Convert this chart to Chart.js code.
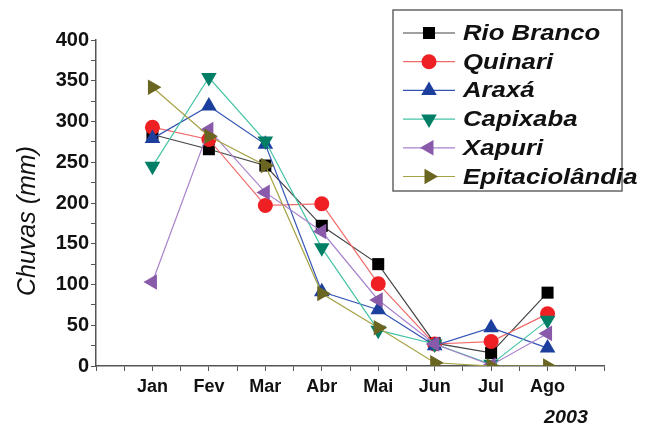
<!DOCTYPE html>
<html>
<head>
<meta charset="utf-8">
<script src="https://cdn.jsdelivr.net/npm/chart.js"></script>
<style>
  html, body { margin: 0; padding: 0; background: #fff; }
  #wrap { width: 651px; height: 426px; }
</style>
</head>
<body>
<div id="wrap"><canvas id="rainChart" width="651" height="426"></canvas></div>
<script>
// month labels, positioned at 1..8 on a linear axis from 0 to 9
const months = ['Jan', 'Fev', 'Mar', 'Abr', 'Mai', 'Jun', 'Jul', 'Ago'];
const yTicks = [0, 50, 100, 150, 200, 250, 300, 350, 400];

// rainfall values (mm)
const rioBranco = [284, 266, 246, 172, 125, 28, 16, 90];
const quinari = [293, 278, 197, 199, 101, 27, 30, 64];
const araxa = [279, 319, 272, 91, 69, 25, 47, 22];
const capixaba = [245, 354, 276, 145, 44, 27, 2, 56];
const xapuri = [103, 290, 213, 165, 81, 27, 1, 40];
const epitaciolandia = [342, 282, 246, 89, 47, 4, 0, 0];

const FONT = "'Liberation Sans', Arial, sans-serif";

function toPoints(values) {
  return values.map((v, i) => ({ x: i + 1, y: v }));
}

const series = [
  { label: 'Rio Branco', data: rioBranco, line: '#444444', fill: '#000000', style: 'rect', radius: 8.5, rot: 0 },
  { label: 'Quinari', data: quinari, line: '#f26a6a', fill: '#ee2024', style: 'circle', radius: 7.5, rot: 0 },
  { label: 'Araxá', data: araxa, line: '#3555b5', fill: '#1c3f9e', style: 'triangle', radius: 9, rot: 0 },
  { label: 'Capixaba', data: capixaba, line: '#45c4a4', fill: '#007f66', style: 'triangle', radius: 9, rot: 180 },
  { label: 'Xapuri', data: xapuri, line: '#a882cc', fill: '#8a5aaa', style: 'triangle', radius: 9, rot: -90 },
  { label: 'Epitaciolândia', data: epitaciolandia, line: '#a5a244', fill: '#6b6522', style: 'triangle', radius: 9, rot: 90 }
];

const datasets = series.map((s, i) => ({
  label: s.label,
  data: toPoints(s.data),
  borderColor: s.line,
  borderWidth: 1.2,
  backgroundColor: s.fill,
  pointStyle: s.style,
  pointRadius: s.radius,
  pointRotation: s.rot,
  pointBackgroundColor: s.fill,
  pointBorderColor: s.fill,
  pointBorderWidth: 0,
  tension: 0,
  order: series.length - i
}));

// text in the source is a bit wider than Arial, stretch it sideways
function wideText(ctx, text, x, y, stretch) {
  ctx.save();
  ctx.translate(x, y);
  ctx.scale(stretch, 1);
  ctx.fillText(text, 0, 0);
  ctx.restore();
}

// floating legend box, y title (sits a bit low in the source) and the "2003" note
const legendBox = {
  id: 'legendBox',
  afterDraw(chart) {
    const ctx = chart.ctx;
    ctx.save();
    ctx.strokeStyle = '#666';
    ctx.lineWidth = 1.5;
    ctx.strokeRect(393, 10, 229, 181);
    chart.data.datasets.forEach((ds, i) => {
      const y = 33 + i * 28.7;
      ctx.strokeStyle = ds.borderColor;
      ctx.lineWidth = 1.2;
      ctx.beginPath();
      ctx.moveTo(403, y);
      ctx.lineTo(455, y);
      ctx.stroke();
      ctx.fillStyle = ds.pointBackgroundColor;
      ctx.strokeStyle = ds.pointBackgroundColor;
      Chart.helpers.drawPoint(ctx, {
        pointStyle: ds.pointStyle,
        radius: ds.pointRadius,
        rotation: ds.pointRotation,
        borderWidth: 0
      }, 429, y);
      ctx.fillStyle = '#111';
      ctx.font = 'italic bold 22px ' + FONT;
      ctx.textAlign = 'left';
      ctx.textBaseline = 'middle';
      wideText(ctx, ds.label, 463, y + 1, 1.17);
    });

    ctx.fillStyle = '#111';
    ctx.font = 'italic 25px ' + FONT;
    ctx.textAlign = 'center';
    ctx.textBaseline = 'middle';
    ctx.save();
    ctx.translate(28, 221);
    ctx.rotate(-Math.PI / 2);
    ctx.fillText('Chuvas (mm)', 0, 0);
    ctx.restore();

    ctx.font = 'italic bold 18px ' + FONT;
    ctx.textAlign = 'right';
    wideText(ctx, '2003', 588, 418, 1.1);
    ctx.restore();
  }
};

new Chart(document.getElementById('rainChart'), {
  type: 'line',
  data: { datasets },
  plugins: [legendBox],
  options: {
    responsive: false,
    animation: false,
    layout: { padding: { left: 0, right: 47, top: 40, bottom: 0 } },
    plugins: {
      legend: { display: false },
      tooltip: { enabled: false }
    },
    scales: {
      x: {
        type: 'linear',
        min: 0,
        max: 9,
        afterFit: (scale) => { scale.height = 60; },
        afterBuildTicks: (scale) => {
          const t = [];
          for (let v = 0; v <= 9; v += 0.5) t.push({ value: v });
          scale.ticks = t;
        },
        ticks: {
          autoSkip: false,
          maxRotation: 0,
          padding: 5,
          color: '#111',
          font: { family: FONT, size: 18, weight: 'bold' },
          callback: (v) => (Number.isInteger(v) && v >= 1 && v <= months.length) ? months[v - 1] : ''
        },
        grid: { drawOnChartArea: false, drawTicks: true, tickLength: 5, color: '#555' },
        border: { display: true, color: '#555', width: 1.5 }
      },
      y: {
        min: 0,
        max: 400,
        afterFit: (scale) => { scale.width = 96; },
        afterBuildTicks: (scale) => {
          const t = [];
          for (let v = 0; v <= 400; v += 25) t.push({ value: v });
          scale.ticks = t;
        },
        ticks: {
          autoSkip: false,
          padding: 2,
          color: '#111',
          font: { family: FONT, size: 20, weight: 'bold' },
          callback: (v) => yTicks.includes(v) ? String(v) : ''
        },
        grid: { drawOnChartArea: false, drawTicks: true, tickLength: 5, color: '#555' },
        border: { display: true, color: '#555', width: 1.5 }
      }
    }
  }
});
</script>
</body>
</html>
